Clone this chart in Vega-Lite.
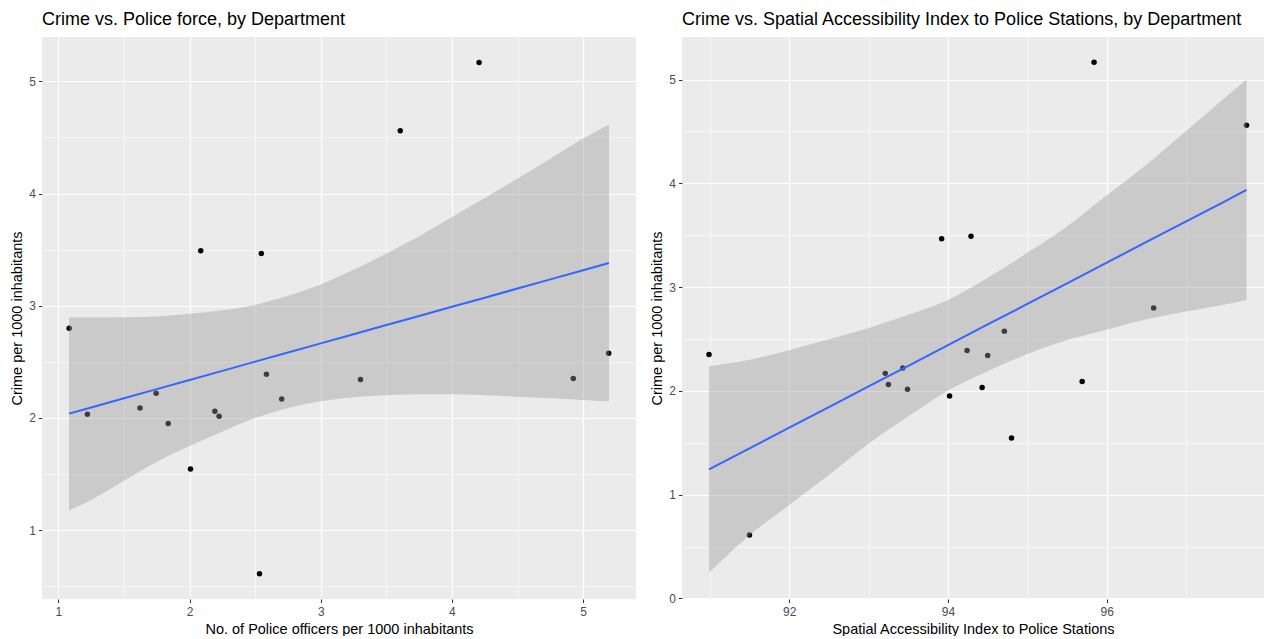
{
  "$schema": "https://vega.github.io/schema/vega-lite/v6.json",
  "background": "white",
  "padding": {"left": 9, "top": 11, "right": 0, "bottom": 0},
  "spacing": 13,
  "config": {
    "font": "Liberation Sans",
    "view": {"fill": "#EBEBEB", "stroke": null},
    "axis": {
      "domain": false,
      "gridColor": "#FFFFFF",
      "tickColor": "#333333",
      "tickSize": 3.5,
      "tickWidth": 1,
      "labelColor": "#4D4D4D",
      "labelFont": "Liberation Sans",
      "labelFontSize": 12,
      "labelPadding": 3,
      "labelOverlap": false,
      "titleFont": "Liberation Sans",
      "titleFontSize": 14.5,
      "titleFontWeight": "normal",
      "titleColor": "#000000",
      "titlePadding": 4
    },
    "axisX": {"labelPadding": 4, "titlePadding": 5},
    "title": {"font": "Liberation Sans", "fontSize": 18, "fontWeight": "normal", "color": "#000000", "anchor": "start", "frame": "group", "offset": 8}
  },
  "datasets": {
    "pts": [
      {"police": 1.082, "access": 96.59, "crime": 2.80},
      {"police": 1.221, "access": 94.43, "crime": 2.033},
      {"police": 1.622, "access": 95.69, "crime": 2.09},
      {"police": 1.745, "access": 93.43, "crime": 2.22},
      {"police": 1.837, "access": 94.02, "crime": 1.951},
      {"police": 2.007, "access": 94.80, "crime": 1.546},
      {"police": 2.193, "access": 93.25, "crime": 2.061},
      {"police": 2.225, "access": 93.49, "crime": 2.015},
      {"police": 2.533, "access": 91.50, "crime": 0.612},
      {"police": 2.586, "access": 94.24, "crime": 2.389},
      {"police": 2.702, "access": 93.21, "crime": 2.169},
      {"police": 3.303, "access": 94.50, "crime": 2.342},
      {"police": 4.925, "access": 90.99, "crime": 2.351},
      {"police": 5.195, "access": 94.71, "crime": 2.576},
      {"police": 2.085, "access": 94.29, "crime": 3.49},
      {"police": 2.547, "access": 93.92, "crime": 3.466},
      {"police": 3.606, "access": 97.76, "crime": 4.56},
      {"police": 4.207, "access": 95.84, "crime": 5.167}
    ],
    "bandL": [
      {"x": 1.081, "lo": 1.176, "fit": 2.039, "hi": 2.895},
      {"x": 1.25, "lo": 1.27, "fit": 2.094, "hi": 2.895},
      {"x": 1.5, "lo": 1.44, "fit": 2.176, "hi": 2.897},
      {"x": 1.75, "lo": 1.61, "fit": 2.257, "hi": 2.905},
      {"x": 2.0, "lo": 1.75, "fit": 2.339, "hi": 2.929},
      {"x": 2.25, "lo": 1.88, "fit": 2.42, "hi": 2.96},
      {"x": 2.5, "lo": 2.0, "fit": 2.502, "hi": 3.01},
      {"x": 2.75, "lo": 2.09, "fit": 2.583, "hi": 3.09},
      {"x": 3.0, "lo": 2.15, "fit": 2.665, "hi": 3.19},
      {"x": 3.25, "lo": 2.185, "fit": 2.746, "hi": 3.32},
      {"x": 3.5, "lo": 2.203, "fit": 2.828, "hi": 3.465},
      {"x": 3.75, "lo": 2.211, "fit": 2.909, "hi": 3.62},
      {"x": 4.0, "lo": 2.211, "fit": 2.991, "hi": 3.79},
      {"x": 4.25, "lo": 2.203, "fit": 3.072, "hi": 3.96},
      {"x": 4.5, "lo": 2.19, "fit": 3.154, "hi": 4.133},
      {"x": 4.75, "lo": 2.175, "fit": 3.235, "hi": 4.31},
      {"x": 5.0, "lo": 2.161, "fit": 3.317, "hi": 4.49},
      {"x": 5.197, "lo": 2.149, "fit": 3.381, "hi": 4.614}
    ],
    "bandR": [
      {"x": 90.99, "lo": 0.248, "fit": 1.244, "hi": 2.237},
      {"x": 91.5, "lo": 0.61, "fit": 1.447, "hi": 2.3},
      {"x": 92.0, "lo": 0.9, "fit": 1.646, "hi": 2.391},
      {"x": 92.5, "lo": 1.19, "fit": 1.844, "hi": 2.497},
      {"x": 93.0, "lo": 1.49, "fit": 2.043, "hi": 2.606},
      {"x": 93.5, "lo": 1.755, "fit": 2.242, "hi": 2.734},
      {"x": 94.0, "lo": 2.005, "fit": 2.441, "hi": 2.877},
      {"x": 94.5, "lo": 2.19, "fit": 2.64, "hi": 3.09},
      {"x": 95.0, "lo": 2.355, "fit": 2.838, "hi": 3.33},
      {"x": 95.5, "lo": 2.49, "fit": 3.037, "hi": 3.585},
      {"x": 96.0, "lo": 2.59, "fit": 3.236, "hi": 3.885},
      {"x": 96.5, "lo": 2.69, "fit": 3.435, "hi": 4.18},
      {"x": 97.0, "lo": 2.765, "fit": 3.634, "hi": 4.505},
      {"x": 97.5, "lo": 2.835, "fit": 3.832, "hi": 4.833},
      {"x": 97.76, "lo": 2.877, "fit": 3.936, "hi": 4.997}
    ]
  },
  "hconcat": [
    {
      "width": 594,
      "height": 562,
      "title": {"text": "Crime vs. Police force, by Department"},
      "layer": [
        {
          "data": {"name": "pts"},
          "mark": {"type": "point", "filled": true, "size": 30, "opacity": 1, "color": "#000000"},
          "encoding": {
            "x": {"field": "police", "type": "quantitative", "title": "No. of Police officers per 1000 inhabitants",
              "scale": {"domain": [0.875, 5.403], "nice": false, "zero": false},
              "axis": {"values": [1, 1.5, 2, 2.5, 3, 3.5, 4, 4.5, 5],
                "labelExpr": "datum.value % 1 ? '' : format(datum.value, 'd')",
                "gridWidth": {"condition": {"test": "datum.value % 1", "value": 0.6}, "value": 1.2},
                "tickOpacity": {"condition": {"test": "datum.value % 1", "value": 0}, "value": 1}}},
            "y": {"field": "crime", "type": "quantitative", "title": "Crime per 1000 inhabitants",
              "scale": {"domain": [0.387, 5.395], "nice": false, "zero": false},
              "axis": {"values": [0.5, 1, 1.5, 2, 2.5, 3, 3.5, 4, 4.5, 5],
                "labelExpr": "datum.value % 1 ? '' : format(datum.value, 'd')",
                "gridWidth": {"condition": {"test": "datum.value % 1", "value": 0.6}, "value": 1.2},
                "tickOpacity": {"condition": {"test": "datum.value % 1", "value": 0}, "value": 1}}}
          }
        },
        {
          "data": {"name": "bandL"},
          "mark": {"type": "area", "color": "#999999", "opacity": 0.4, "interpolate": "monotone"},
          "encoding": {
            "x": {"field": "x", "type": "quantitative", "title": "No. of Police officers per 1000 inhabitants"},
            "y": {"field": "lo", "type": "quantitative", "title": "Crime per 1000 inhabitants"},
            "y2": {"field": "hi"}
          }
        },
        {
          "data": {"name": "bandL"},
          "mark": {"type": "line", "color": "#3366FF", "strokeWidth": 2},
          "encoding": {
            "x": {"field": "x", "type": "quantitative", "title": "No. of Police officers per 1000 inhabitants"},
            "y": {"field": "fit", "type": "quantitative", "title": "Crime per 1000 inhabitants"}
          }
        }
      ]
    },
    {
      "width": 582,
      "height": 562,
      "title": {"text": "Crime vs. Spatial Accessibility Index to Police Stations, by Department"},
      "layer": [
        {
          "data": {"name": "pts"},
          "mark": {"type": "point", "filled": true, "size": 30, "opacity": 1, "color": "#000000"},
          "encoding": {
            "x": {"field": "access", "type": "quantitative", "title": "Spatial Accessibility Index to Police Stations",
              "scale": {"domain": [90.65, 97.98], "nice": false, "zero": false},
              "axis": {"values": [91, 92, 93, 94, 95, 96, 97],
                "labelExpr": "datum.value % 2 ? '' : format(datum.value, 'd')",
                "gridWidth": {"condition": {"test": "datum.value % 2", "value": 0.6}, "value": 1.2},
                "tickOpacity": {"condition": {"test": "datum.value % 2", "value": 0}, "value": 1}}},
            "y": {"field": "crime", "type": "quantitative", "title": "Crime per 1000 inhabitants",
              "scale": {"domain": [-0.005, 5.41], "nice": false, "zero": false},
              "axis": {"values": [0, 0.5, 1, 1.5, 2, 2.5, 3, 3.5, 4, 4.5, 5],
                "labelExpr": "datum.value % 1 ? '' : format(datum.value, 'd')",
                "gridWidth": {"condition": {"test": "datum.value % 1", "value": 0.6}, "value": 1.2},
                "tickOpacity": {"condition": {"test": "datum.value % 1", "value": 0}, "value": 1}}}
          }
        },
        {
          "data": {"name": "bandR"},
          "mark": {"type": "area", "color": "#999999", "opacity": 0.4, "interpolate": "monotone"},
          "encoding": {
            "x": {"field": "x", "type": "quantitative", "title": "Spatial Accessibility Index to Police Stations"},
            "y": {"field": "lo", "type": "quantitative", "title": "Crime per 1000 inhabitants"},
            "y2": {"field": "hi"}
          }
        },
        {
          "data": {"name": "bandR"},
          "mark": {"type": "line", "color": "#3366FF", "strokeWidth": 2},
          "encoding": {
            "x": {"field": "x", "type": "quantitative", "title": "Spatial Accessibility Index to Police Stations"},
            "y": {"field": "fit", "type": "quantitative", "title": "Crime per 1000 inhabitants"}
          }
        }
      ]
    }
  ]
}
